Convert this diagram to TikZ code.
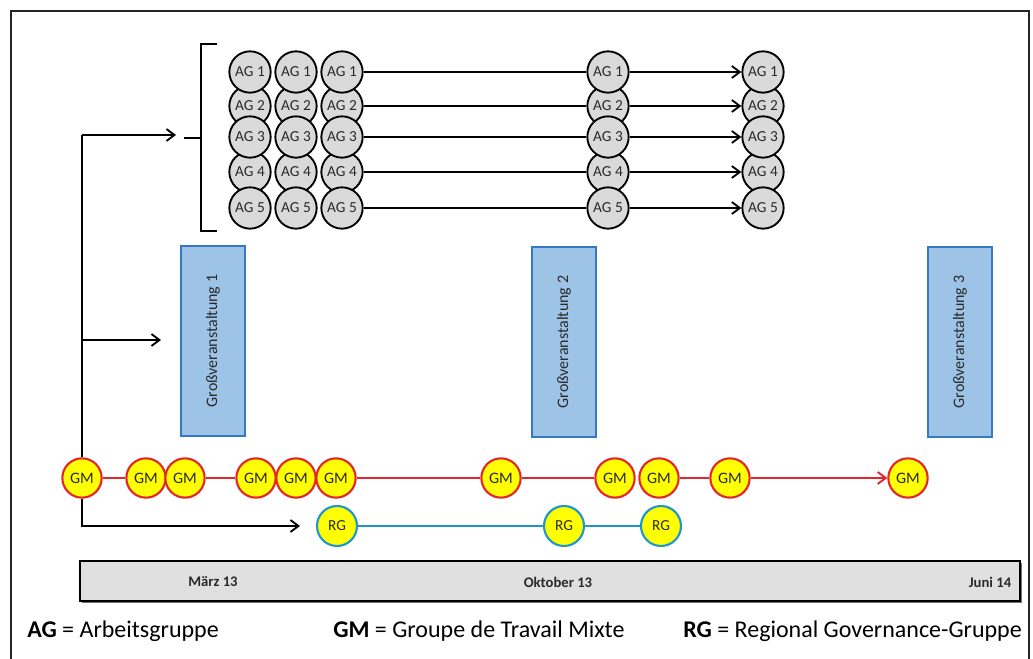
\documentclass[tikz,border=0pt]{standalone}
\usepackage{fontspec}
\setmainfont{Carlito}
\usetikzlibrary{arrows.meta}
\definecolor{agfill}{HTML}{DADADA}
\definecolor{gmred}{HTML}{E3262B}
\definecolor{gmyellow}{HTML}{FFFF00}
\definecolor{rgblue}{HTML}{1F96CC}
\definecolor{evfill}{HTML}{9DC3E6}
\definecolor{evdraw}{HTML}{3579C4}
\definecolor{barfill}{HTML}{E0E0E0}
\definecolor{lbl}{HTML}{2A2A2A}
\begin{document}
\begin{tikzpicture}[x=0.75pt,y=-0.75pt,
  ag/.style={circle,draw=black,line width=1.4pt,fill=agfill,minimum size=31pt,inner sep=0pt,
    text=lbl,font=\fontsize{11.5}{10}\selectfont},
  gm/.style={circle,draw=gmred,line width=1.6pt,fill=gmyellow,minimum size=29.5pt,inner sep=0pt,
    text=lbl,font=\fontsize{12}{10}\selectfont},
  rg/.style={gm,draw=rgblue,minimum size=30pt,font=\fontsize{11.5}{10}\selectfont},
  event/.style={draw=evdraw,line width=1.6pt,fill=evfill,rotate=90,
    minimum width=142pt,minimum height=48pt,inner sep=0pt,
    text=lbl,font=\fontsize{12}{10}\selectfont},
  conn/.style={line width=1.4pt,draw=black},
  arr/.style={conn,-{Straight Barb[length=6pt,width=9pt,line width=1.4pt]}},
  gmline/.style={line width=1.4pt,draw=gmred},
  rgline/.style={line width=1.4pt,draw=rgblue},
  tick/.style={font=\bfseries\fontsize{11}{10}\selectfont,text=lbl},
  legend/.style={anchor=base west,inner sep=0pt,font=\fontsize{18}{18}\selectfont}]
\useasboundingbox (0,0) rectangle (1033,659);

% outer frame
\draw[line width=1.5pt,draw=black!85] (11,664) -- (11,11) -- (1029,11) -- (1029,664);

% bracket grouping the working groups
\coordinate (bt) at (201,44);
\coordinate (bb) at (201,231);
\coordinate (bm) at (201,138);
\draw[conn] ([xshift=12]bt) -- (bt) -- (bb) -- ([xshift=12]bb);
\draw[conn] ([xshift=-13]bm) -- (bm);

% working groups (AG), five columns, rows 2 and 4 behind
\foreach \col/\x in {1/250,2/296,3/342,4/608,5/763}{
  \foreach \r/\y in {2/106,4/172,1/72,3/137,5/208}{
    \node[ag] (ag\col-\r) at (\x,\y) {AG \r};
  }
}
\foreach \r in {1,...,5}{
  \draw[conn] (ag3-\r) -- (ag4-\r);
  \draw[arr] (ag4-\r) -- (ag5-\r);
}

% large events
\node[event] (ev1) at (213,341) {Großveranstaltung 1};
\node[event] (ev2) at (564,342) {Großveranstaltung 2};
\node[event] (ev3) at (960,342) {Großveranstaltung 3};

% Groupe de Travail Mixte meetings
\foreach \i/\x in {1/82,2/146,3/185,4/256,5/296,6/336,7/501,8/615,9/659,10/730,11/908}{
  \node[gm] (gm\i) at (\x,478) {GM};
}
\draw[gmline] (gm1) -- (gm2);
\draw[gmline] (gm3) -- (gm4);
\draw[gmline] (gm6) -- (gm7);
\draw[gmline] (gm7) -- (gm8);
\draw[gmline] (gm9) -- (gm10);
\draw[gmline,-{Straight Barb[length=6pt,width=9pt,line width=1.4pt]}] (gm10) -- (gm11);

% Regional Governance meetings
\node[rg] (rg1) at (337,526) {RG};
\node[rg] (rg2) at (564,526) {RG};
\node[rg] (rg3) at (661,526) {RG};
\draw[rgline] (rg1) -- (rg2);
\draw[rgline] (rg2) -- (rg3);

% left feeder line with its branches
\coordinate (ftop) at (82,135);
\coordinate (ftopend) at (176,135);
\coordinate (fmid) at (82,340);
\coordinate (fmidend) at (161,340);
\coordinate (flow) at (82,526);
\coordinate (flowend) at (300,526);
\draw[conn] (gm1) -- (ftop);
\draw[arr] (ftop) -- (ftopend);
\draw[arr] (fmid) -- (fmidend);
\draw[arr] (gm1) -- (flow) -- (flowend);

% time line
\coordinate (tl1) at (80,561);
\coordinate (tl2) at (1020,601);
\fill[black!55] ([shift={(2,2)}]tl1) rectangle ([shift={(2,2)}]tl2);
\draw[line width=1.5pt,fill=barfill] (tl1) rectangle (tl2);
\node[tick] (t1) at (213,582) {März 13};
\node[tick] (t2) at (558,582) {Oktober 13};
\node[tick] (t3) at (990,582) {Juni 14};

% legend
\node[legend] (l1) at (27,638) {\textbf{AG} = Arbeitsgruppe};
\node[legend] (l2) at (333,638) {\textbf{GM} = Groupe de Travail Mixte};
\node[legend] (l3) at (683,638) {\textbf{RG} = Regional Governance-Gruppe};
\end{tikzpicture}
\end{document}
